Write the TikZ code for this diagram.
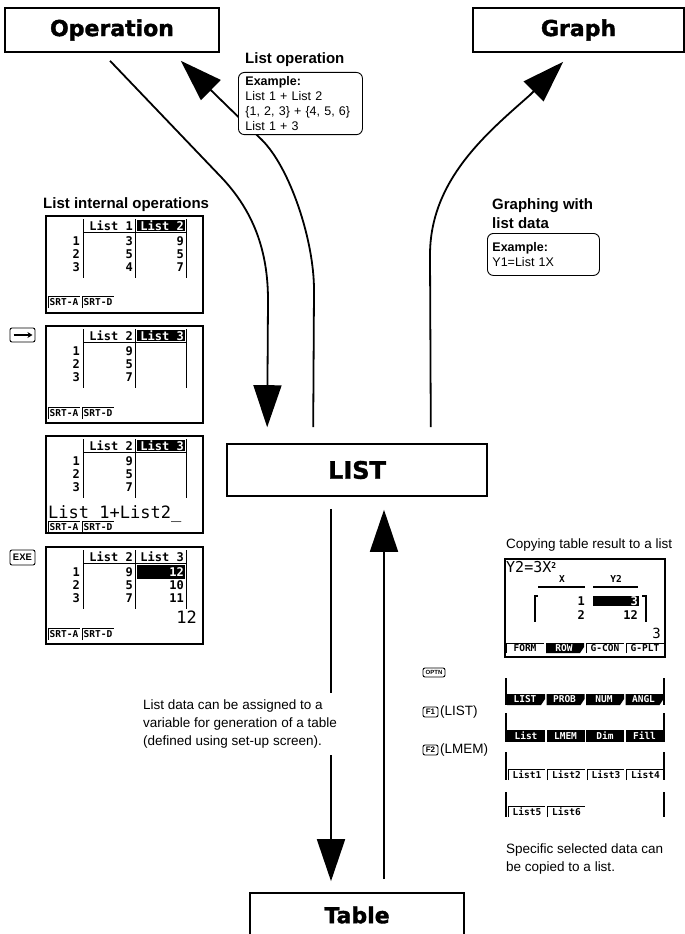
\documentclass[tikz,border=0pt]{standalone}
\usepackage{fontspec}
\setmainfont{Liberation Sans}
\newfontfamily\heavyfont{DejaVu Sans}[BoldFeatures={FakeBold=1.6}]
\newfontfamily\lcdfont{DejaVu Sans Mono}
\usetikzlibrary{arrows.meta,positioning,calc}

\begin{document}
\begin{tikzpicture}[x=1pt,y=-1pt,>={Triangle[length=42pt,width=28pt]},
  headbox/.style={draw,line width=1.6pt,inner sep=0pt,minimum height=44pt,
    font=\heavyfont\bfseries\fontsize{22}{24}\selectfont},
  flow/.style={->,line width=1.8pt},
  title/.style={anchor=west,align=left,inner sep=0pt,font=\bfseries\fontsize{15}{19}\selectfont},
  note/.style={anchor=west,align=left,inner sep=0pt,font=\fontsize{13.5}{18}\selectfont},
  exbox/.style={draw,fill=white,rounded corners=6pt,line width=0.9pt,anchor=north west,
    align=left,inner xsep=7pt,inner ysep=4pt,font=\fontsize{12.5}{15}\selectfont},
  keycap/.style={draw,rounded corners=2pt,line width=0.9pt,inner sep=0pt,
    font=\bfseries\fontsize{8}{8}\selectfont},
  lcd/.style={inner sep=0pt,font=\lcdfont\bfseries\fontsize{12}{12}\selectfont},
  lcdbig/.style={inner sep=0pt,font=\lcdfont\fontsize{17}{17}\selectfont},
  tab/.style={inner sep=0pt,font=\lcdfont\bfseries\fontsize{9.5}{9.5}\selectfont}]
\useasboundingbox (0,0) rectangle (685,934);

\node[headbox,minimum width=214pt] (op) at (112,30) {Operation};
\node[headbox,minimum width=211pt] (gr) at (578.5,30) {Graph};
\node[headbox,minimum width=260pt,minimum height=52pt,
  font=\heavyfont\bfseries\fontsize{24}{26}\selectfont] (lst) at (357,470) {LIST};
\node[headbox,minimum width=214pt] (tbl) at (357,915) {Table};

\draw[flow] ($(op.south)+(-2,8)$) -- (222,178) .. controls (253,211) and (268,250) .. (268,300)
  -- ($(lst.north west)+(41,-16)$);
\draw[flow] ($(lst.north west)+(87,-16)$) -- (314,290) .. controls (314,240) and (290,168) .. (262,140)
  -- ($(op.south east)+(-39,8)$);
\draw[flow] ($(lst.north east)+(-57,-16)$) -- (430,255) .. controls (430,180) and (487,133) .. (530,95)
  -- ($(gr.south west)+(91,9)$);
\draw[flow] ($(lst.south)+(-26,12)$) -- ($(tbl.north)+(-26,-11)$);
\draw[flow] ($(tbl.north)+(27,-13)$) -- ($(lst.south)+(27,13)$);

\node[title] (lopt) at (245,60) {List operation};
\node[exbox,text width=110pt] (lopex) at (238,72)
  {\textbf{Example:}\\List 1 + List 2\\\{1, 2, 3\} + \{4, 5, 6\}\\List 1 + 3};
\node[title] (grt) at (492,213.5) {Graphing with\\list data};
\node[exbox,text width=102pt,inner xsep=5pt,minimum height=42pt] (grex) at (487,233)
  {\textbf{Example:}\\Y1=List 1X};
\node[note,fill=white,inner ysep=7pt] (asgn) at (143,724)
  {List data can be assigned to a\\variable for generation of a table\\(defined using set-up screen).};

\node[title] (lint) at (43,205) {List internal operations};
\foreach \sy/\na/\my in {216/1/80,326/2/81,436/2/85,547/2/81}{
  \begin{scope}[shift={(46,\sy)}]
  \draw[line width=1.4pt] (0,0) rectangle (157,97);
  \draw[line width=1pt] (37,3) -- (37,62) (89,3) -- (89,62) (140,3) -- (140,62);
  \draw[line width=1.5pt] (37,16.5) -- (140,16.5);
  \node[lcd,anchor=east] at (87,9.5) {List \na};
  \foreach \r/\ry in {1/25,2/38,3/51}
    \node[lcd,anchor=east] at (34,\ry) {\r};
  \draw[line width=0.9pt] (2,\my+12) -- (2,\my) -- (34,\my) (36,\my+12) -- (36,\my) -- (68,\my);
  \node[tab] at (18,\my+6.5) {SRT-A};
  \node[tab] at (52,\my+6.5) {SRT-D};
  \end{scope}
}
\begin{scope}[shift={(46,216)}]
\fill (91,4) rectangle (139,15);
\node[lcd,anchor=east,white] at (138,9.5) {List 2};
\foreach \va/\vb/\ry in {3/9/25,5/5/38,4/7/51}{
  \node[lcd,anchor=east] at (87,\ry) {\va};
  \node[lcd,anchor=east] at (138,\ry) {\vb};
}
\end{scope}
\foreach \sy in {326,436,547}{
  \begin{scope}[shift={(46,\sy)}]
  \foreach \va/\ry in {9/25,5/38,7/51}
    \node[lcd,anchor=east] at (87,\ry) {\va};
  \end{scope}
}
\foreach \sy in {326,436}{
  \begin{scope}[shift={(46,\sy)}]
  \fill (91,4) rectangle (139,15);
  \node[lcd,anchor=east,white] at (138,9.5) {List 3};
  \end{scope}
}
\node[lcdbig,anchor=base west] at (48,518) {List 1+List2\_};
\begin{scope}[shift={(46,547)}]
\node[lcd,anchor=east] at (138,9.5) {List 3};
\fill (91,18) rectangle (139,32);
\node[lcd,anchor=east,white] at (138,25) {12};
\node[lcd,anchor=east] at (138,38) {10};
\node[lcd,anchor=east] at (138,51) {11};
\node[lcdbig,anchor=base east] at (151,76) {12};
\end{scope}

\node[keycap,minimum width=25pt,minimum height=14pt] (kright) at (22.5,335) {};
\draw[line width=1.6pt,-{Stealth[length=5pt,width=6pt]}] ($(kright.west)+(4,0)$) -- ($(kright.east)+(-3,0)$);
\node[keycap,minimum width=25pt,minimum height=15pt,font=\bfseries\fontsize{9.5}{9.5}\selectfont] (kexe) at (22.5,557.5) {EXE};

\node[note] (copyt) at (506,545) {Copying table result to a list};
\begin{scope}[shift={(505,559)}]
\draw[line width=1.4pt] (0,0) rectangle (160,98);
\node[lcdbig,anchor=base west,font=\lcdfont\fontsize{15}{15}\selectfont] at (1,13) {Y2=3X\raisebox{4pt}{\bfseries\fontsize{8}{8}\selectfont 2}};
\node[tab] at (57,20) {X};
\node[tab] at (111,20) {Y2};
\draw[line width=1.5pt] (33,28) -- (80,28) (88,28) -- (133,28);
\draw[line width=1.2pt] (33,37) -- (30,37) -- (30,63) (137,37) -- (141,37) -- (141,63);
\node[lcd,anchor=east] at (80,42) {1};
\fill (88,36.5) rectangle (134,47);
\node[lcd,anchor=east,white] at (133,42) {3};
\node[lcd,anchor=east] at (80,56) {2};
\node[lcd,anchor=east] at (133,56) {12};
\node[lcdbig,anchor=base east,font=\lcdfont\fontsize{14}{14}\selectfont] at (156,79) {3};
\draw[line width=0.9pt] (1,94) -- (1,84) -- (39,84) (81,94) -- (81,84) -- (119,84) (121,94) -- (121,84) -- (159,84);
\fill (41,84) -- (79,84) -- (79,88) -- (75,94) -- (41,94) -- cycle;
\node[tab] at (20,89.5) {FORM};
\node[tab,white] at (59,89.5) {ROW};
\node[tab] at (100,89.5) {G-CON};
\node[tab] at (140,89.5) {G-PLT};
\end{scope}

\foreach \t/\b in {678/705,713/742,752/780,792/817}
  \draw[line width=1.2pt] (506,\t) -- (506,\b) (664,\t) -- (664,\b);
\foreach \i/\tx in {0/LIST,1/PROB,2/NUM,3/ANGL}{
  \fill (507+39.5*\i,694) -- ++(38,0) -- ++(0,5) -- ++(-4,6) -- (507+39.5*\i,705) -- cycle;
  \node[tab,white] at (525+39.5*\i,699.5) {\tx};
}
\foreach \i/\tx in {0/List,1/LMEM,2/Dim,3/Fill}{
  \fill (507+39.5*\i,730) rectangle ++(38,12);
  \node[tab,white] at (526+39.5*\i,736) {\tx};
}
\foreach \i/\tx in {0/List1,1/List2,2/List3,3/List4}{
  \draw[line width=0.9pt] (508+39.5*\i,780) -- ++(0,-11) -- ++(37,0);
  \node[tab] at (527+39.5*\i,775) {\tx};
}
\foreach \i/\tx in {0/List5,1/List6}{
  \draw[line width=0.9pt] (508+39.5*\i,817) -- ++(0,-11) -- ++(37,0);
  \node[tab] at (527+39.5*\i,812) {\tx};
}

\node[keycap,minimum width=22pt,minimum height=9pt,font=\bfseries\fontsize{6}{6}\selectfont] (kopt) at (434,672.5) {OPTN};
\node[keycap,minimum width=15pt,minimum height=10pt] (kfa) at (430.5,712) {F1};
\node[note,right=1.5pt of kfa] (fal) {(LIST)};
\node[keycap,minimum width=15pt,minimum height=10pt] (kfb) at (430.5,750) {F2};
\node[note,right=1.5pt of kfb] (fbl) {(LMEM)};
\node[note] (spec) at (506,859) {Specific selected data can\\be copied to a list.};
\end{tikzpicture}
\end{document}
